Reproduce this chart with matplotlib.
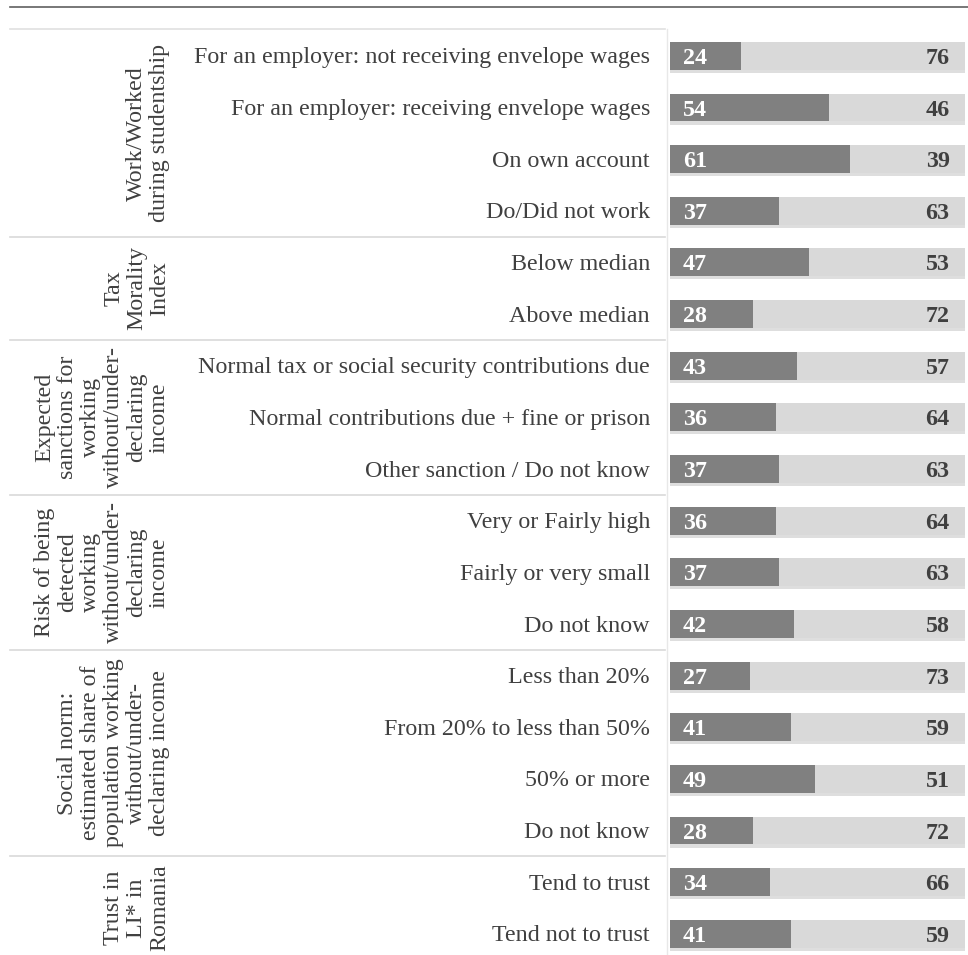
import matplotlib
matplotlib.use("Agg")
import matplotlib.pyplot as plt

groups = [
    "Work/Worked\nduring studentship",
    "Tax\nMorality\nIndex",
    "Expected\nsanctions for\nworking\nwithout/under-\ndeclaring\nincome",
    "Risk of being\ndetected\nworking\nwithout/under-\ndeclaring\nincome",
    "Social norm:\nestimated share of\npopulation working\nwithout/under-\ndeclaring income",
    "Trust in\nLI* in\nRomania",
]
group_sizes = [4, 2, 3, 3, 4, 2]
categories = [
    "For an employer: not receiving envelope wages",
    "For an employer: receiving envelope wages",
    "On own account",
    "Do/Did not work",
    "Below median",
    "Above median",
    "Normal tax or social security contributions due",
    "Normal contributions due + fine or prison",
    "Other sanction / Do not know",
    "Very or Fairly high",
    "Fairly or very small",
    "Do not know",
    "Less than 20%",
    "From 20% to less than 50%",
    "50% or more",
    "Do not know",
    "Tend to trust",
    "Tend not to trust",
]
dark_vals = [24, 54, 61, 37, 47, 28, 43, 36, 37, 36, 37, 42, 27, 41, 49, 28, 34, 41]
light_vals = [76, 46, 39, 63, 53, 72, 57, 64, 63, 64, 63, 58, 73, 59, 51, 72, 66, 59]

plt.rcParams['font.family'] = ['Liberation Serif', 'DejaVu Serif']
W, H = 968, 955
fig = plt.figure(figsize=(W / 100, H / 100), dpi=100)

ytop, ybot = -0.5, 17.41
ax_h = (955 - 30) / H

# left panel (labels), x in pixel units
axl = fig.add_axes([0, 0, 670 / W, ax_h])
axl.set_xlim(0, 670)
axl.set_ylim(ybot, ytop)
axl.axis("off")

# bar panel
axb = fig.add_axes([670 / W, 0, 295 / W, ax_h])
axb.set_xlim(0, 100)
axb.set_ylim(ybot, ytop)
axb.axis("off")

n = len(categories)
ys = list(range(n))
bh = 0.54
text_col = "#404040"
fs = 17.3

for y, lab in zip(ys, categories):
    axl.text(650, y + 0.04, lab, ha="right", va="center", fontsize=fs, color=text_col)

# shadows
axb.barh([y + 0.06 for y in ys], [100] * n, height=bh, color="#c8c8c8", alpha=0.6, zorder=1)
axb.barh(ys, dark_vals, height=bh, color="#808080", zorder=2)
axb.barh(ys, light_vals, left=dark_vals, height=bh, color="#d9d9d9", zorder=2)

for y, d, l in zip(ys, dark_vals, light_vals):
    axb.text(4.3, y + 0.05, str(d), ha="left", va="center", fontsize=fs,
             fontweight="bold", color="white", zorder=3)
    axb.text(94.8, y + 0.05, str(l), ha="right", va="center", fontsize=fs,
             fontweight="bold", color="#404040", zorder=3)

# group labels and separators
start = 0
for g, size in zip(groups, group_sizes):
    lo = start - 0.5
    hi = start + size - 0.5
    axl.text(170, (lo + hi) / 2, g, rotation=90, ha="right", va="center",
             multialignment="center", fontsize=fs, color=text_col, linespacing=1.12)
    if start > 0:
        axl.plot([10, 665], [lo, lo], color="#d9d9d9", lw=1.2, clip_on=False)
    start += size

axl.plot([10, 665], [-0.52, -0.52], color="#e0e0e0", lw=1.2, clip_on=False)
axl.plot([667, 667], [-0.52, ybot], color="#e8e8e8", lw=1.0, clip_on=False)

# top rule
fig.add_artist(plt.Line2D([10 / W, 1], [1 - 7 / H, 1 - 7 / H], color="#606060", lw=1.2))

fig.savefig("out.png", dpi=100)
